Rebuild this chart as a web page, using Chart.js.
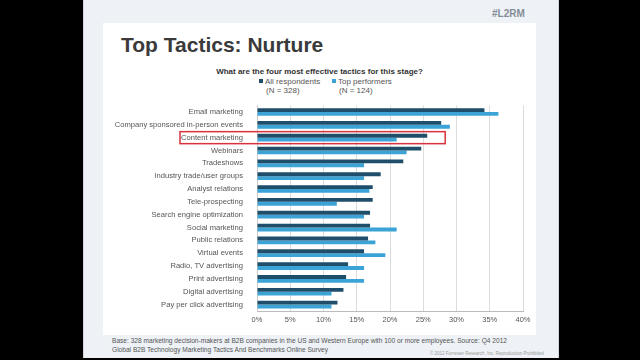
<!DOCTYPE html>
<html>
<head>
<meta charset="utf-8">
<script src="https://cdn.jsdelivr.net/npm/chart.js@4"></script>
<style>
  html, body { margin: 0; padding: 0; width: 640px; height: 360px; background: #000; overflow: hidden; font-family: Arial, "Liberation Sans", sans-serif; }
  .diapo { position: absolute; left: 83px; top: 0; width: 474px; height: 358px; background: #eef2f6; border-left: 1px solid #cfd6de; border-right: 1px solid #cfd6de; }
  .panel { position: absolute; left: 103px; top: 23px; width: 433px; height: 312px; background: #fff; }
  .tag { position: absolute; left: 492px; top: 8px; font-size: 10px; font-weight: bold; color: #858d96; }
  .titulo { position: absolute; left: 121px; top: 33px; font-size: 21px; font-weight: bold; color: #3a3a3a; }
  .pregunta { position: absolute; left: 103px; width: 433px; top: 67px; text-align: center; font-size: 8px; font-weight: bold; color: #333; }
  .leyenda { position: absolute; top: 77px; font-size: 8px; color: #555; line-height: 9px; }
  .leyenda i { display: inline-block; width: 4px; height: 4px; margin-right: 2px; vertical-align: 1px; }
  .pie { position: absolute; left: 112px; top: 336px; font-size: 6.6px; color: #555; line-height: 9px; }
  .copy { position: absolute; left: 430px; top: 351px; font-size: 4.5px; color: #999; }
  #grafico { position: absolute; left: 110px; top: 95px; }
</style>
</head>
<body>
<div class="diapo"></div>
<div class="panel"></div>
<div class="tag">#L2RM</div>
<div class="titulo">Top Tactics: Nurture</div>
<div class="pregunta">What are the four most effective tactics for this stage?</div>
<div class="leyenda" style="left:259px"><i style="background:#1f4e6b"></i>All respondents<br><span style="padding-left:7px">(N = 328)</span></div>
<div class="leyenda" style="left:332px"><i style="background:#3ba3d6"></i>Top performers<br><span style="padding-left:7px">(N = 124)</span></div>
<div class="pie">Base: 328 marketing decision-makers at B2B companies in the US and Western Europe with 100 or more employees. Source: Q4 2012<br>Global B2B Technology Marketing Tactics And Benchmarks Online Survey</div>
<div class="copy">© 2012 Forrester Research, Inc. Reproduction Prohibited</div>
<canvas id="grafico" width="430" height="233"></canvas>
<script>
// Datos (%)
const tacticas = [
  'Email marketing',
  'Company sponsored in-person events',
  'Content marketing',
  'Webinars',
  'Tradeshows',
  'Industry trade/user groups',
  'Analyst relations',
  'Tele-prospecting',
  'Search engine optimization',
  'Social marketing',
  'Public relations',
  'Virtual events',
  'Radio, TV advertising',
  'Print advertising',
  'Digital advertising',
  'Pay per click advertising'
];
const todos = [34.2, 27.7, 25.6, 24.7, 22.0, 18.6, 17.4, 17.4, 17.0, 17.0, 16.7, 16.1, 13.7, 13.4, 13.0, 12.1];
const mejores = [36.3, 29.0, 21.0, 22.5, 16.1, 16.1, 16.9, 12.0, 16.1, 21.0, 17.8, 19.3, 16.1, 16.1, 11.2, 11.2];
const marcasX = [0, 5, 10, 15, 20, 25, 30, 35, 40];

// Recuadro rojo alrededor de "Content marketing"
const recuadro = {
    id: 'recuadro',
    afterDraw(chart) {
        const ctx = chart.ctx;
        const x = chart.scales.x;
        const y = chart.scales.y;
        const centro = y.getPixelForValue(2);
        const izq = x.getPixelForValue(0) - 77;
        const der = x.getPixelForValue(28.3);
        ctx.save();
        ctx.strokeStyle = '#d8323c';
        ctx.lineWidth = 1.5;
        ctx.strokeRect(izq, centro - 6, der - izq, 12);
        ctx.restore();
    }
};

new Chart(document.getElementById('grafico'), {
    type: 'bar',
    data: {
        labels: tacticas,
        datasets: [
            { label: 'All respondents', data: todos, backgroundColor: '#1f4e6b' },
            { label: 'Top performers', data: mejores, backgroundColor: '#3ba3d6' }
        ]
    },
    options: {
        indexAxis: 'y',
        responsive: false,
        animation: false,
        layout: { padding: { top: 3, right: 17, bottom: 0, left: 0 } },
        datasets: { bar: { categoryPercentage: 0.6, barPercentage: 1.0 } },
        scales: {
            x: {
                min: 0,
                max: 40,
                afterBuildTicks: (s) => { s.ticks = marcasX.map(v => ({ value: v })); },
                ticks: {
                    callback: (v) => v + '%',
                    color: '#555',
                    font: { family: 'Arial', size: 7.5 },
                    padding: 4
                },
                grid: { color: '#dcdcdc', drawTicks: false },
                border: { color: '#bbb' }
            },
            y: {
                afterFit: (s) => { s.width = 147; },
                ticks: {
                    color: '#555',
                    font: { family: 'Arial', size: 7.6 },
                    padding: 6
                },
                grid: { display: false },
                border: { color: '#ccc' }
            }
        },
        plugins: {
            legend: { display: false },
            tooltip: { enabled: false }
        }
    },
    plugins: [recuadro]
});
</script>
</body>
</html>
